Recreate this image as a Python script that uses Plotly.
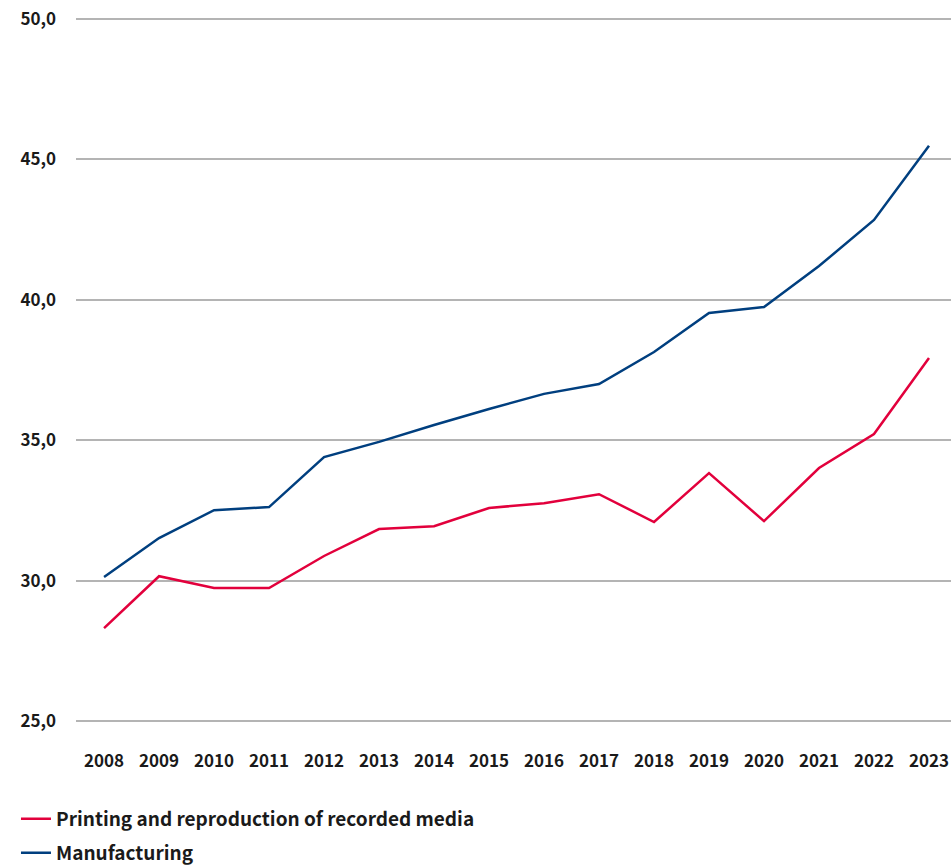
import plotly.graph_objects as go

years = list(range(2008, 2024))
printing = [28.31, 30.16, 29.74, 29.74, 30.88, 31.84, 31.94, 32.59,
            32.76, 33.08, 32.09, 33.83, 32.12, 34.01, 35.22, 37.93]
manufacturing = [30.13, 31.52, 32.51, 32.62, 34.40, 34.94, 35.54, 36.11,
                 36.65, 37.00, 38.14, 39.53, 39.74, 41.20, 42.84, 45.48]
y_ticks = [25, 30, 35, 40, 45, 50]
y_tick_text = ["25,0", "30,0", "35,0", "40,0", "45,0", "50,0"]

RED = "#e2003c"
BLUE = "#003f7f"
FONT = "Noto Sans CJK JP"

fig = go.Figure()
fig.add_trace(go.Scatter(
    x=years, y=printing, mode="lines", name="<b>Printing and reproduction of recorded media</b>",
    line=dict(color=RED, width=2.5), legend="legend"))
fig.add_trace(go.Scatter(
    x=years, y=manufacturing, mode="lines", name="<b>Manufacturing</b>",
    line=dict(color=BLUE, width=2.5), legend="legend2"))

legend_common = dict(
    orientation="v", xanchor="left", yanchor="middle",
    font=dict(family=FONT, size=19, color="#1a1a1a"),
    bgcolor="rgba(0,0,0,0)", borderwidth=0, itemclick=False,
)

fig.update_layout(
    width=951, height=867,
    margin=dict(l=76, r=0, t=16, b=143, autoexpand=False),
    paper_bgcolor="white", plot_bgcolor="white",
    font=dict(family=FONT, color="#1a1a1a"),
    showlegend=True,
    legend=dict(**legend_common, x=-0.0686, y=-0.134),
    legend2=dict(**legend_common, x=-0.0686, y=-0.182),
    xaxis=dict(
        range=[2007.49, 2023.4], tickmode="array", tickvals=years,
        ticktext=[f"<b>{y}</b>" for y in years],
        showgrid=False, zeroline=False, showline=False, ticks="",
        tickfont=dict(family=FONT, size=17, color="#1a1a1a"),
        ticklabelstandoff=25,
    ),
    yaxis=dict(
        range=[24.9, 50.1], tickmode="array", tickvals=y_ticks,
        ticktext=[f"<b>{t}</b>" for t in y_tick_text],
        showgrid=True, gridcolor="#b4b4b4", gridwidth=1.5,
        zeroline=False, showline=False, ticks="",
        tickfont=dict(family=FONT, size=17, color="#1a1a1a"),
        ticklabelstandoff=19,
    ),
)

fig.write_html("out.html")
